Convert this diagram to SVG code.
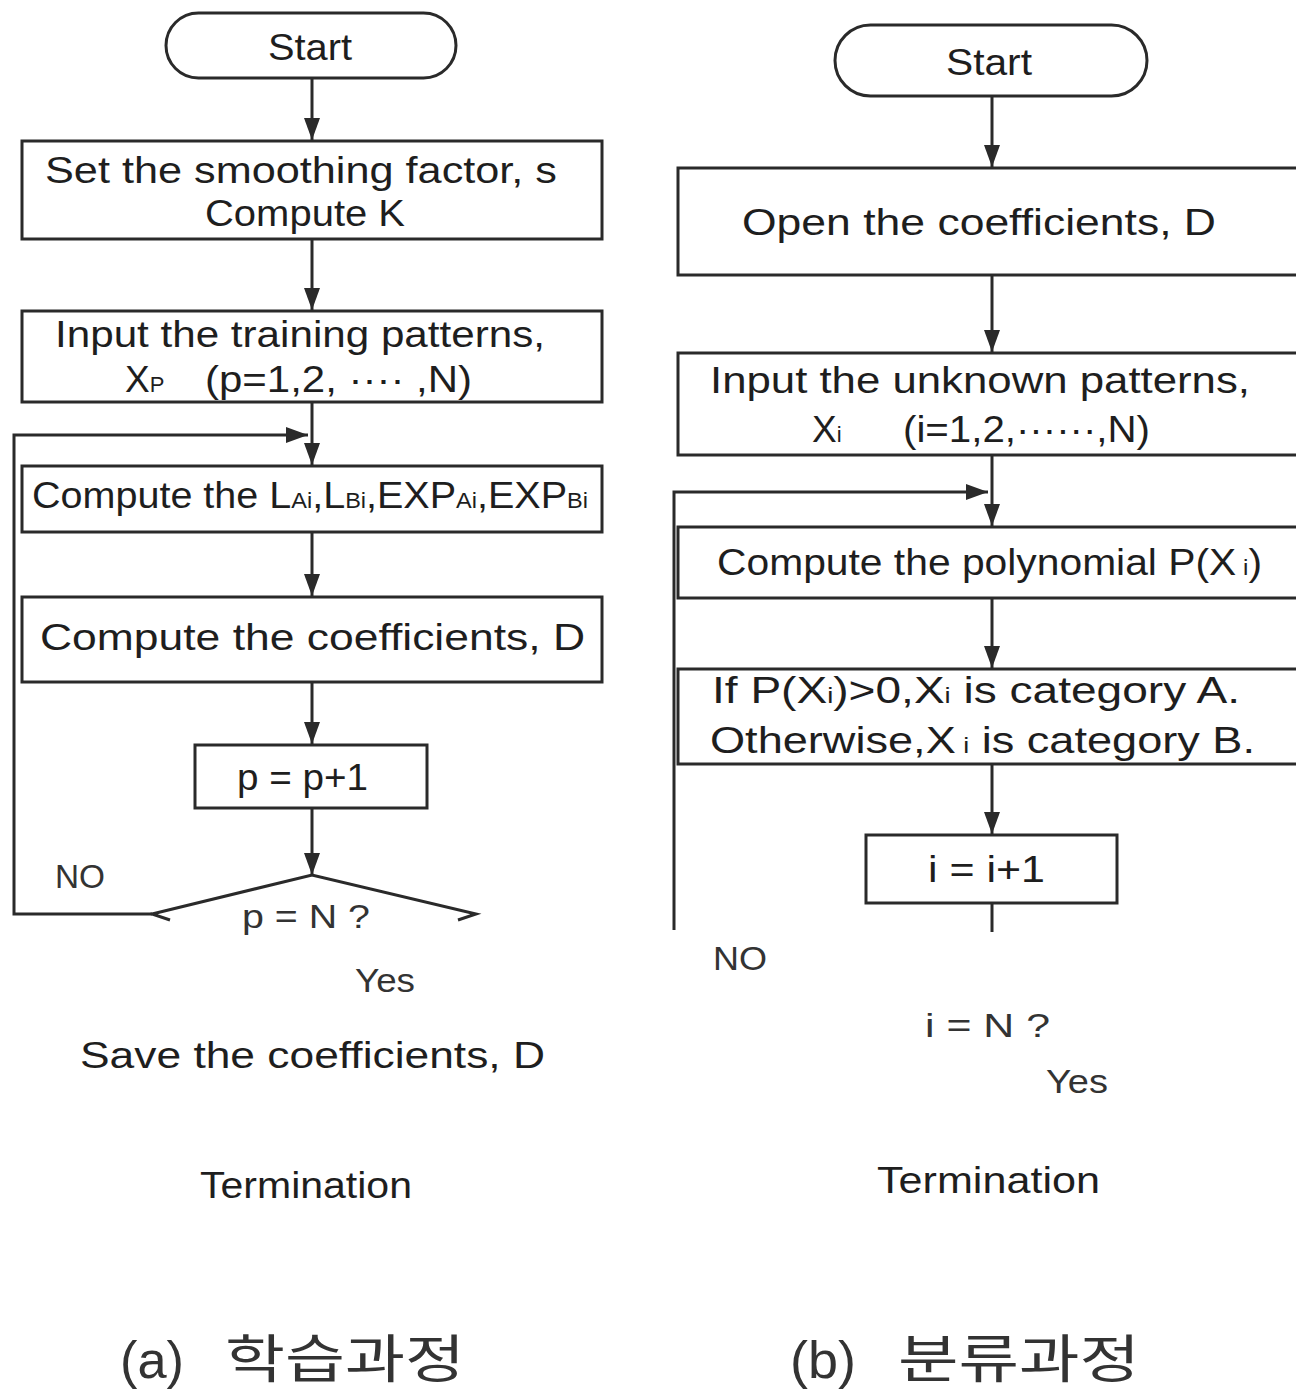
<svg xmlns="http://www.w3.org/2000/svg" width="1296" height="1390" viewBox="0 0 1296 1390">
<style>
.bg{fill:#ffffff}
.box{fill:#ffffff;stroke:#2a2a2a;stroke-width:3}
.ln{fill:none;stroke:#2a2a2a;stroke-width:3}
.t{font-family:"Liberation Sans",Arial,sans-serif;font-size:37px;fill:#1e1e1e}
.s{font-size:22px}
.lbl{font-family:"Liberation Sans",Arial,sans-serif;font-size:33px;fill:#333333}
.cap{font-family:"Liberation Sans",Arial,sans-serif;font-size:52px;fill:#333333}
.kr{font-family:"Liberation Sans","Noto Sans CJK KR",sans-serif;font-size:52px;fill:#333333}
</style>
<defs>
<marker id="ah" viewBox="0 0 22 16" markerWidth="22" markerHeight="16" refX="22" refY="8" orient="auto" markerUnits="userSpaceOnUse">
<path d="M0,0 L22,8 L0,16 z" fill="#2a2a2a"/>
</marker>
</defs>
<rect class="bg" x="0" y="0" width="1296" height="1390"/>

<g id="connectors">
<line class="ln" x1="312" y1="78" x2="312" y2="140" marker-end="url(#ah)"/>
<line class="ln" x1="312" y1="239" x2="312" y2="310" marker-end="url(#ah)"/>
<line class="ln" x1="312" y1="402" x2="312" y2="465" marker-end="url(#ah)"/>
<line class="ln" x1="312" y1="532" x2="312" y2="596" marker-end="url(#ah)"/>
<line class="ln" x1="312" y1="682" x2="312" y2="744" marker-end="url(#ah)"/>
<line class="ln" x1="312" y1="808" x2="312" y2="875" marker-end="url(#ah)"/>
<polyline class="ln" points="152,914 14,914 14,435 308,435" marker-end="url(#ah)"/>
<line class="ln" x1="992" y1="96" x2="992" y2="167" marker-end="url(#ah)"/>
<line class="ln" x1="992" y1="275" x2="992" y2="352" marker-end="url(#ah)"/>
<line class="ln" x1="992" y1="455" x2="992" y2="526" marker-end="url(#ah)"/>
<line class="ln" x1="992" y1="598" x2="992" y2="668" marker-end="url(#ah)"/>
<line class="ln" x1="992" y1="764" x2="992" y2="834" marker-end="url(#ah)"/>
<line class="ln" x1="992" y1="903" x2="992" y2="932"/>
<polyline class="ln" points="674,930 674,492 988,492" marker-end="url(#ah)"/>
</g>

<g id="a-start">
<rect class="box" x="166" y="13" width="290" height="65" rx="32.5" ry="32.5"/>
<text class="t" x="268" y="60" textLength="84" lengthAdjust="spacingAndGlyphs">Start</text>
</g>
<g id="a-set">
<rect class="box" x="22" y="141" width="580" height="98"/>
<text class="t" x="45" y="183" textLength="512" lengthAdjust="spacingAndGlyphs">Set the smoothing factor, s</text>
<text class="t" x="205" y="226" textLength="200" lengthAdjust="spacingAndGlyphs">Compute K</text>
</g>
<g id="a-input">
<rect class="box" x="22" y="311" width="580" height="91"/>
<text class="t" x="55" y="347" textLength="490" lengthAdjust="spacingAndGlyphs">Input the training patterns,</text>
<text class="t" x="125" y="392">X<tspan class="s">P</tspan></text>
<text class="t" x="205" y="392" textLength="267" lengthAdjust="spacingAndGlyphs">(p=1,2, ···· ,N)</text>
</g>
<g id="a-compute-l">
<rect class="box" x="22" y="466" width="580" height="66"/>
<text class="t" x="32" y="508" textLength="556" lengthAdjust="spacingAndGlyphs">Compute the L<tspan class="s">Ai</tspan>,L<tspan class="s">Bi</tspan>,EXP<tspan class="s">Ai</tspan>,EXP<tspan class="s">Bi</tspan></text>
</g>
<g id="a-compute-d">
<rect class="box" x="22" y="597" width="580" height="85"/>
<text class="t" x="40" y="650" textLength="545" lengthAdjust="spacingAndGlyphs">Compute the coefficients,  D</text>
</g>
<g id="a-inc">
<rect class="box" x="195" y="745" width="232" height="63"/>
<text class="t" x="237" y="790" textLength="131" lengthAdjust="spacingAndGlyphs">p = p+1</text>
</g>
<g id="a-decision">
<polyline class="ln" points="170,920 152,914 312,875 476,914 458,920"/>
<text class="lbl" x="242" y="928" textLength="128" lengthAdjust="spacingAndGlyphs">p = N ?</text>
<text class="lbl" x="55" y="888" textLength="50" lengthAdjust="spacingAndGlyphs">NO</text>
<text class="lbl" x="355" y="992" textLength="60" lengthAdjust="spacingAndGlyphs">Yes</text>
</g>
<g id="a-save">
<text class="t" x="80" y="1068" textLength="465" lengthAdjust="spacingAndGlyphs">Save the coefficients,  D</text>
</g>
<g id="a-term">
<text class="t" x="200" y="1198" textLength="212" lengthAdjust="spacingAndGlyphs">Termination</text>
</g>
<g id="a-caption">
<text class="cap" x="120" y="1378" textLength="64" lengthAdjust="spacingAndGlyphs">(a)</text>
<text class="kr" x="225" y="1378" textLength="240" lengthAdjust="spacingAndGlyphs">학습과정</text>
</g>

<g id="b-start">
<rect class="box" x="835" y="25" width="312" height="71" rx="35.5" ry="35.5"/>
<text class="t" x="946" y="75" textLength="86" lengthAdjust="spacingAndGlyphs">Start</text>
</g>
<g id="b-open">
<rect class="box" x="678" y="168" width="622" height="107"/>
<text class="t" x="742" y="235" textLength="474" lengthAdjust="spacingAndGlyphs">Open the coefficients, D</text>
</g>
<g id="b-input">
<rect class="box" x="678" y="353" width="622" height="102"/>
<text class="t" x="710" y="393" textLength="540" lengthAdjust="spacingAndGlyphs">Input the unknown patterns,</text>
<text class="t" x="812" y="442">X<tspan class="s">i</tspan></text>
<text class="t" x="903" y="442" textLength="247" lengthAdjust="spacingAndGlyphs">(i=1,2,······,N)</text>
</g>
<g id="b-poly">
<rect class="box" x="678" y="527" width="622" height="71"/>
<text class="t" x="717" y="575" textLength="545" lengthAdjust="spacingAndGlyphs">Compute the polynomial P(X<tspan class="s"> i</tspan>)</text>
</g>
<g id="b-classify">
<rect class="box" x="678" y="669" width="622" height="95"/>
<text class="t" x="712" y="703" textLength="528" lengthAdjust="spacingAndGlyphs">If P(X<tspan class="s">i</tspan>)&gt;0,X<tspan class="s">i</tspan>  is category A.</text>
<text class="t" x="710" y="753" textLength="545" lengthAdjust="spacingAndGlyphs">Otherwise,X<tspan class="s"> i</tspan>  is category B.</text>
</g>
<g id="b-inc">
<rect class="box" x="866" y="835" width="251" height="68"/>
<text class="t" x="928" y="882" textLength="117" lengthAdjust="spacingAndGlyphs">i = i+1</text>
</g>
<g id="b-decision">
<text class="lbl" x="925" y="1037" textLength="125" lengthAdjust="spacingAndGlyphs">i = N ?</text>
<text class="lbl" x="713" y="970" textLength="54" lengthAdjust="spacingAndGlyphs">NO</text>
<text class="lbl" x="1046" y="1093" textLength="62" lengthAdjust="spacingAndGlyphs">Yes</text>
</g>
<g id="b-term">
<text class="t" x="877" y="1193" textLength="223" lengthAdjust="spacingAndGlyphs">Termination</text>
</g>
<g id="b-caption">
<text class="cap" x="790" y="1378" textLength="66" lengthAdjust="spacingAndGlyphs">(b)</text>
<text class="kr" x="898" y="1378" textLength="242" lengthAdjust="spacingAndGlyphs">분류과정</text>
</g>
</svg>
